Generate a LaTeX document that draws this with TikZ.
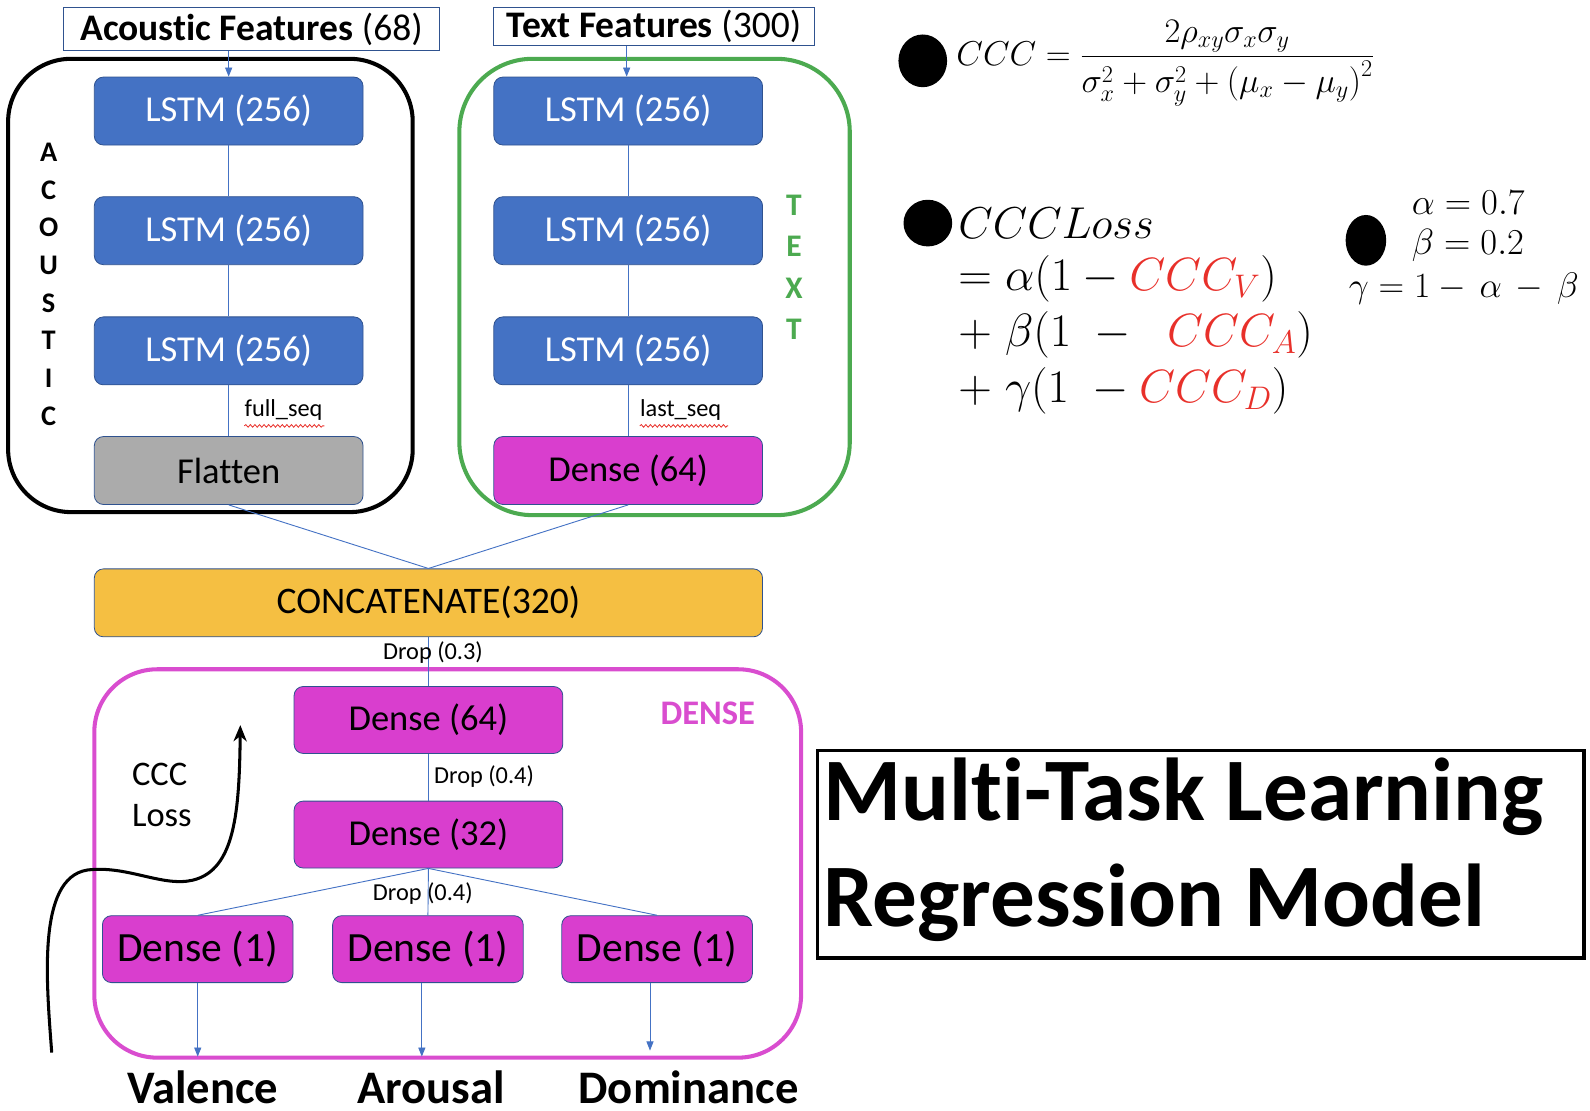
\RequirePackage{fix-cm}
\documentclass[tikz,border=0pt]{standalone}
\usepackage{amsmath}
\usepackage[no-math]{fontspec}
\setmainfont{Carlito}[Ligatures=NoCommon]
\usetikzlibrary{arrows.meta,decorations.pathmorphing}
\definecolor{lblue}{HTML}{4472C4}
\definecolor{lbord}{HTML}{2F528F}
\definecolor{mag}{HTML}{D93ECE}
\definecolor{magframe}{HTML}{D94DCF}
\definecolor{gframe}{HTML}{4CAA50}
\definecolor{gry}{HTML}{ABABAB}
\definecolor{orng}{HTML}{F5BF42}
\definecolor{redf}{HTML}{E8302A}
\newcommand\fsz[1]{\fontsize{#1}{#1}\selectfont}
\tikzset{
  blk/.style={draw=lbord, line width=0.8, rounded corners=9, minimum width=265, minimum height=67, inner sep=0},
  lstm/.style={blk, fill=lblue, text=white, font=\fsz{36}},
  magbox/.style={blk, fill=mag, text=black, font=\fsz{36}},
  onebox/.style={magbox, minimum width=188, minimum height=66, font=\fsz{41}},
  feat/.style={draw=lbord, line width=1, inner sep=0, font=\fsz{37}},
  frame/.style={line width=4, rounded corners=62, inner sep=0},
  conn/.style={lblue, line width=0.9},
  connarr/.style={conn, -{Triangle[length=9,width=7]}},
  lbl/.style={font=\fsz{24}, inner sep=0},
  vert/.style={font=\fsz{28}\bfseries, inner sep=0},
  outl/.style={font=\fsz{46}\bfseries, inner sep=0, anchor=base},
  spell/.style={redf, line width=0.8, decorate, decoration={snake, amplitude=1.3, segment length=4.5}},
  big/.style={font=\fsz{88}\bfseries, inner sep=0, anchor=west},
  mth/.style={anchor=west, inner sep=0},
}
\begin{document}
\begin{tikzpicture}[x=1pt,y=-1pt]
\useasboundingbox (0,0) rectangle (1568,1095);

% frames
\node (acframe) [frame, draw=black, minimum width=399, minimum height=447] at (207.5,281.5) {};
\node (txframe) [frame, draw=gframe, minimum width=385, minimum height=450, rounded corners=72] at (645.5,283) {};
\node (dnframe) [frame, draw=magframe, minimum width=697, minimum height=383] at (441.5,851.5) {};

% feature inputs
\node (af) [feat, minimum width=370, minimum height=43] at (248,28.5) {\textbf{Acoustic Features} (68)};
\node (tf) [feat, minimum width=316, minimum height=38] at (645,26) {\textbf{Text Features} (300)};

% acoustic branch
\node (la1) [lstm] at (225.5,109.5) {LSTM (256)};
\node (la2) [lstm] at (225.5,227.5) {LSTM (256)};
\node (la3) [lstm] at (225.5,346) {LSTM (256)};
\node (fl) [blk, fill=gry, font=\fsz{36}] at (225.5,464) {Flatten};

% text branch
\node (lt1) [lstm] at (619.5,109.5) {LSTM (256)};
\node (lt2) [lstm] at (619.5,227.5) {LSTM (256)};
\node (lt3) [lstm] at (619.5,346) {LSTM (256)};
\node (dt) [magbox] at (619.5,464) {Dense (64)};

% concat and dense
\node (cc) [blk, fill=orng, minimum width=659, font=\fsz{37}] at (422.5,594.5) {CONCATENATE(320)};
\node (d64) [magbox, minimum height=66] at (422.5,710) {Dense (64)};
\node (d32) [magbox, minimum height=66] at (422.5,823) {Dense (32)};
\node (o1) [onebox] at (195,936) {Dense (1)};
\node (o2) [onebox] at (422,936) {Dense (1)};
\node (o3) [onebox] at (648,936) {Dense (1)};

% connectors
\draw[connarr] (la1.north |- af.south) -- (la1.north);
\draw[connarr] ([xshift=-1.5]lt1.north |- tf.south) -- ([xshift=-1.5]lt1.north);
\draw[conn] (la1) -- (la2);
\draw[conn] (la2) -- (la3);
\draw[conn] (la3) -- (fl);
\draw[conn] (lt1) -- (lt2);
\draw[conn] (lt2) -- (lt3);
\draw[conn] (lt3) -- (dt);
\draw[conn] (fl.south) -- (cc.north);
\draw[conn] (dt.south) -- (cc.north);
\draw[conn] (cc.south) -- (d64.north);
\draw[conn] (d64) -- (d32);
\draw[conn] (d32.south) -- (o1.north);
\draw[conn] (d32.south) -- (o2.north);
\draw[conn] (d32.south) -- (o3.north);

\coordinate (vo) at (195,1042);
\coordinate (ao) at (416,1042);
\coordinate (dout) at (641,1036);
\draw[connarr] (o1.south) -- (vo);
\draw[connarr] (o2.south -| ao) -- (ao);
\draw[connarr] (o3.south -| dout) -- (dout);

% labels on connectors
\node (fs) [lbl, anchor=west] at (241,404) {full\_seq};
\draw[spell] (241,420) -- (320,420);
\node (ls) [lbl, anchor=west] at (631,404) {last\_seq};
\draw[spell] (631,420) -- (718,420);
\node (dr1) [lbl] at (427,644) {Drop (0.3)};
\node (dr2) [lbl, anchor=west] at (428,766) {Drop (0.4)};
\node (dr3) [lbl] at (417,881) {Drop (0.4)};

% vertical titles
\foreach \l [count=\i from 0] in {A,C,O,U,S,T,I,C}
  \node (ac\i) [vert] at (48,150+37.2*\i) {\l};
\foreach \l [count=\i from 0] in {T,E,X,T}
  \node (tx\i) [vert, text=gframe, font=\fsz{31}\bfseries] at (783,202+41*\i) {\l};
\node (dlab) [font=\fsz{34}\bfseries, text=magframe, inner sep=0] at (698,703) {DENSE};

% outputs
\node (val) [outl] at (200,1088) {Valence};
\node (aro) [outl] at (425,1088) {Arousal};
\node (dom) [outl] at (679,1088) {Dominance};

% CCC loss arrow
\node (cl) [font=\fsz{34}, align=left, inner sep=0, anchor=west] at (130,784) {CCC\\[6pt]Loss};
\coordinate (cls) at (51,1038);
\coordinate (cle) at (237,715);
\draw[line width=3, -{Stealth[length=16,width=13,inset=5]}] (cls)
  .. controls (46,970) and (36,866) .. (86,858)
  .. controls (125,853) and (160,875) .. (190,868)
  .. controls (232,858) and (236,800) .. (cle);

% title box
\node (tbox) [draw=black, line width=3.5, minimum width=756, minimum height=205, inner sep=0] at (1184,842.5) {};
\node (t1) [big] at (812,786) {Multi-Task Learning};
\node (t2) [big] at (812,890) {Regression Model};

% formulas
\fill (910,60) ellipse (24 and 26);
\node (f1) [mth, font=\fsz{34}] at (943,62)
  {$CCC = \dfrac{2\rho_{xy}\sigma_x\sigma_y}{\sigma_x^2+\sigma_y^2+\left(\mu_x-\mu_y\right)^2}$};
\fill (915,220) ellipse (24 and 23);
\node (f2) [mth, font=\fsz{44}] at (945,220) {$CCCLoss$};
\node (f3) [mth, font=\fsz{46}] at (945,275) {$=\alpha(1-\textcolor{redf}{CCC_V})$};
\node (f4) [mth, font=\fsz{46}] at (945,330) {$+\;\beta(1\;-\;\;\textcolor{redf}{CCC_A})$};
\node (f5) [mth, font=\fsz{46}] at (945,385) {$+\;\gamma(1\;-\textcolor{redf}{CCC_D})$};
\fill (1347,237) ellipse (20 and 25);
\node (g1) [mth, font=\fsz{36}] at (1392,200) {$\alpha=0.7$};
\node (g2) [mth, font=\fsz{36}] at (1392,242) {$\beta=0.2$};
\node (g3) [mth, font=\fsz{35}] at (1330,285) {$\gamma=1-\,\alpha\,-\,\beta$};
\end{tikzpicture}
\end{document}
